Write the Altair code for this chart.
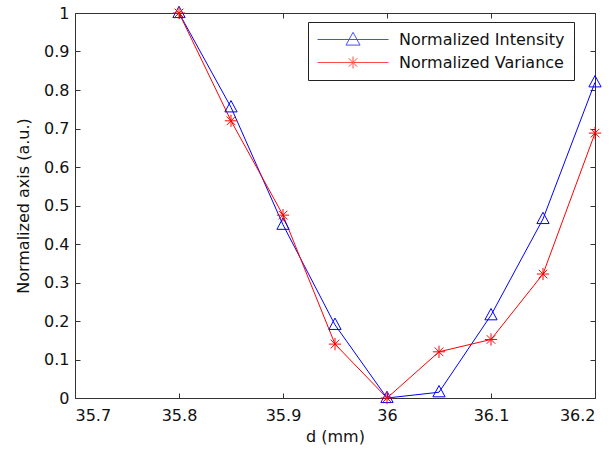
import altair as alt
import pandas as pd

d_vals = [35.8, 35.85, 35.9, 35.95, 36.0, 36.05, 36.1, 36.15, 36.2]
intensity = [1.0, 0.755, 0.45, 0.19, 0.0, 0.015, 0.215, 0.465, 0.82]
variance = [1.0, 0.72, 0.475, 0.14, 0.0, 0.12, 0.152, 0.322, 0.688]
series_names = ["Normalized Intensity", "Normalized Variance"]
series_colors = ["#0000FF", "#FF0000"]
x_ticks = [35.7, 35.8, 35.9, 36.0, 36.1, 36.2]
y_ticks = [0, 0.1, 0.2, 0.3, 0.4, 0.5, 0.6, 0.7, 0.8, 0.9, 1]

rows = []
for name, vals in zip(series_names, [intensity, variance]):
    for d, v in zip(d_vals, vals):
        rows.append({"d": d, "value": v, "series": name})
df = pd.DataFrame(rows)

FONT = "DejaVu Sans"
tri_path = "M0,-1.1L1,0.75L-1,0.75Z"
star_path = "M0,-1L0,1M-1,0L1,0M-0.7,-0.7L0.7,0.7M-0.7,0.7L0.7,-0.7"
# legend samples: line segment with the marker in its middle
leg_tri = "M-1,0L7.875,0M3.44,-0.9L4.32,0.7L2.56,0.7Z"
leg_star = ("M-1,0L7.875,0M3.44,-0.75L3.44,0.75M2.69,0L4.19,0"
            "M2.91,-0.53L3.97,0.53M2.91,0.53L3.97,-0.53")

xscale = alt.Scale(domain=[35.7, 36.2], nice=False, zero=False)
yscale = alt.Scale(domain=[0, 1], nice=False, zero=False)
cscale = alt.Scale(domain=series_names, range=series_colors)


def tick_axis(orient):
    vals = x_ticks if orient in ("top", "bottom") else y_ticks
    return alt.Axis(orient=orient, offset=-5, values=vals, tickSize=5, labels=False,
                    domain=False, grid=False, title=None, ticks=True,
                    tickColor="#333333", tickWidth=1)


lines = alt.Chart(df).mark_line(strokeWidth=1).encode(
    x=alt.X("d:Q", scale=xscale, axis=alt.Axis(orient="bottom", values=x_ticks, format="~g",
                                                ticks=False, domain=False, grid=False,
                                                labelFontSize=16, labelPadding=9, labelColor="#111",
                                                title="d (mm)", titleFontSize=16,
                                                titleFontWeight="normal", titlePadding=5,
                                                titleColor="#111")),
    y=alt.Y("value:Q", scale=yscale, axis=alt.Axis(orient="left", values=y_ticks, format="~g",
                                                    ticks=False, domain=False, grid=False,
                                                    labelFontSize=16, labelPadding=6, labelColor="#111",
                                                    title="Normalized axis (a.u.)", titleFontSize=16,
                                                    titleFontWeight="normal", titlePadding=12,
                                                    titleColor="#111")),
    color=alt.Color("series:N", scale=cscale, legend=None),
    detail="series:N",
)

points = alt.Chart(df).mark_point(filled=False, strokeWidth=1, size=150, opacity=1).encode(
    x=alt.X("d:Q", scale=xscale, axis=tick_axis("bottom")),
    y=alt.Y("value:Q", scale=yscale, axis=tick_axis("left")),
    color=alt.Color("series:N", scale=cscale, legend=None),
    shape=alt.Shape("series:N", scale=alt.Scale(domain=series_names, range=[tri_path, star_path]),
                    legend=None),
)

leg = dict(title=None, orient="none", legendX=233, legendY=9, labelLimit=400)
legend_layer = alt.Chart(df).mark_point(filled=False, strokeWidth=1, size=256).encode(
    x=alt.X("d:Q", scale=xscale, axis=tick_axis("top")),
    y=alt.Y("value:Q", scale=yscale, axis=tick_axis("right")),
    color=alt.Color("series:N", scale=alt.Scale(domain=series_names, range=series_colors),
                    legend=alt.Legend(**leg)),
    shape=alt.Shape("series:N", scale=alt.Scale(domain=series_names, range=[leg_tri, leg_star]),
                    legend=alt.Legend(**leg)),
).transform_filter("datum.d < 0")

chart = alt.layer(lines, points, legend_layer).resolve_scale(
    color="independent", shape="independent"
).resolve_axis(
    x="independent", y="independent"
).resolve_legend(
    color="independent", shape="independent"
).properties(
    width=520, height=385,
    autosize=alt.AutoSizeParams(type="none"),
    padding={"left": 75, "top": 13, "right": 21, "bottom": 52},
    background="white",
).configure_view(
    stroke="#333333", strokeWidth=1
).configure_axis(
    labelFont=FONT, titleFont=FONT
).configure_legend(
    labelFont=FONT, labelFontSize=16, labelColor="#111", labelLimit=400,
    symbolSize=256, symbolStrokeWidth=1, symbolFillColor="transparent",
    strokeColor="#222222", fillColor="white", padding=9, labelOffset=65,
    rowPadding=6, cornerRadius=0,
)

chart.save("out.html", embed_options={"renderer": "svg", "actions": False})
